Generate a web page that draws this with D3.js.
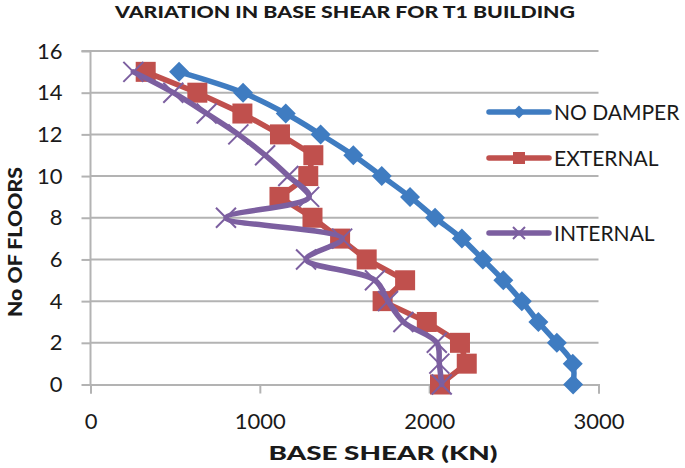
<!DOCTYPE html>
<html>
<head>
<meta charset="utf-8">
<script src="https://cdn.jsdelivr.net/npm/d3@7"></script>
<style>
  html, body { margin: 0; padding: 0; background: #fff; }
  svg { display: block; }
  text { font-family: Lato, "Open Sans", sans-serif; fill: #1a1a1a; }
</style>
</head>
<body>
<svg id="chart" width="685" height="468"></svg>
<script>
// ---- data ----
const floors = [15, 14, 13, 12, 11, 10, 9, 8, 7, 6, 5, 4, 3, 2, 1, 0];
const noDamper = [523, 901, 1153, 1359, 1552, 1720, 1887, 2035, 2193, 2317, 2438, 2547, 2645, 2754, 2848, 2850];
const external = [326, 631, 897, 1119, 1316, 1286, 1116, 1311, 1474, 1631, 1858, 1725, 1986, 2182, 2222, 2064];
const internal = [253, 489, 686, 873, 1031, 1168, 1291, 800, 1486, 1273, 1680, 1757, 1848, 2045, 2060, 2074];
const xTicks = [0, 1000, 2000, 3000];
const yTicks = [0, 2, 4, 6, 8, 10, 12, 14, 16];
const seriesNames = ["NO DAMPER", "EXTERNAL", "INTERNAL"];
const title = "VARIATION IN BASE SHEAR FOR T1 BUILDING";
const xTitle = "BASE SHEAR (KN)";
const yTitle = "No OF FLOORS";

// ---- layout ----
const svg = d3.select("#chart");
const x = d3.scaleLinear().domain([0, 3000]).range([90.5, 598.5]);
const y = d3.scaleLinear().domain([0, 16]).range([384.5, 51]);
const gridColor = "#b3b3b3";

// gridlines
svg.append("g").selectAll("line").data(yTicks.filter(d => d > 0)).join("line")
  .attr("x1", x(0)).attr("x2", x(3000))
  .attr("y1", d => y(d)).attr("y2", d => y(d))
  .attr("stroke", gridColor).attr("stroke-width", 2);

// axes
const xAxis = d3.axisBottom(x).tickValues(xTicks).tickSize(9).tickFormat(d3.format("d"));
const gx = svg.append("g").attr("transform", `translate(0,${y(0)})`).call(xAxis);
const yAxis = d3.axisLeft(y).tickValues(yTicks).tickSize(9).tickPadding(19).tickFormat(d3.format("d"));
const gy = svg.append("g").attr("transform", `translate(${x(0)},0)`).call(yAxis);
[gx, gy].forEach(g => {
  g.select(".domain").attr("stroke", gridColor).attr("stroke-width", 2);
  g.selectAll(".tick line").attr("stroke", gridColor).attr("stroke-width", 2);
  g.selectAll(".tick text").style("font-family", "Lato, sans-serif").style("font-size", "22px").attr("fill", "#1a1a1a");
});
gy.select(".domain").attr("d", `M-9,${y(16)}H0V${y(0)}`);
gx.selectAll(".tick text").attr("dy", null).attr("y", 44);

// series
const colors = ["#3f7cc1", "#c0504d", "#7c5fa0"];
const data = [noDamper, external, internal];
const curves = [d3.curveCatmullRom.alpha(0.5), d3.curveLinear, d3.curveCatmullRom.alpha(0.5)];

function drawMarker(g, type, cx, cy, color, s) {
  if (type === 0) {
    g.append("path").attr("d", `M${cx},${cy - s}L${cx + s},${cy}L${cx},${cy + s}L${cx - s},${cy}Z`).attr("fill", color);
  } else if (type === 1) {
    g.append("rect").attr("x", cx - s).attr("y", cy - s).attr("width", 2 * s).attr("height", 2 * s).attr("fill", color);
  } else {
    g.append("path").attr("d", `M${cx - s},${cy - s}L${cx + s},${cy + s}M${cx - s},${cy + s}L${cx + s},${cy - s}`)
      .attr("stroke", color).attr("stroke-width", 2);
  }
}

const markerSize = [10, 10, 10];
data.forEach((vals, i) => {
  const pts = vals.map((v, j) => [x(v), y(floors[j])]);
  const g = svg.append("g");
  g.append("path").attr("d", d3.line().curve(curves[i])(pts))
    .attr("fill", "none").attr("stroke", colors[i]).attr("stroke-width", 5.5)
    .attr("stroke-linejoin", "round").attr("stroke-linecap", "round");
  pts.forEach(p => drawMarker(g, i, p[0], p[1], colors[i], markerSize[i]));
});

// legend
const legendY = [112, 158, 233];
const legendMarker = [6.5, 6, 6];
seriesNames.forEach((name, i) => {
  const g = svg.append("g");
  g.append("line").attr("x1", 489).attr("x2", 549).attr("y1", legendY[i]).attr("y2", legendY[i])
    .attr("stroke", colors[i]).attr("stroke-width", 5.5).attr("stroke-linecap", "round");
  drawMarker(g, i, 519, legendY[i], colors[i], legendMarker[i]);
  g.append("text").attr("x", 554).attr("y", legendY[i]).attr("dy", "0.36em")
    .style("font-size", "21px").text(name);
});

// titles
svg.append("text").attr("x", 345).attr("y", 18).attr("text-anchor", "middle")
  .style("font-size", "16.5px").style("font-weight", "900")
  .attr("textLength", 460).attr("lengthAdjust", "spacingAndGlyphs").text(title);
svg.append("text").attr("x", 383).attr("y", 460).attr("text-anchor", "middle")
  .style("font-size", "18.5px").style("font-weight", "900")
  .attr("textLength", 229).attr("lengthAdjust", "spacingAndGlyphs").text(xTitle);
svg.append("text").attr("transform", "translate(22,242) rotate(-90)").attr("text-anchor", "middle")
  .style("font-size", "18.5px").style("font-weight", "900")
  .attr("textLength", 150).attr("lengthAdjust", "spacingAndGlyphs").text(yTitle);
</script>
</body>
</html>
